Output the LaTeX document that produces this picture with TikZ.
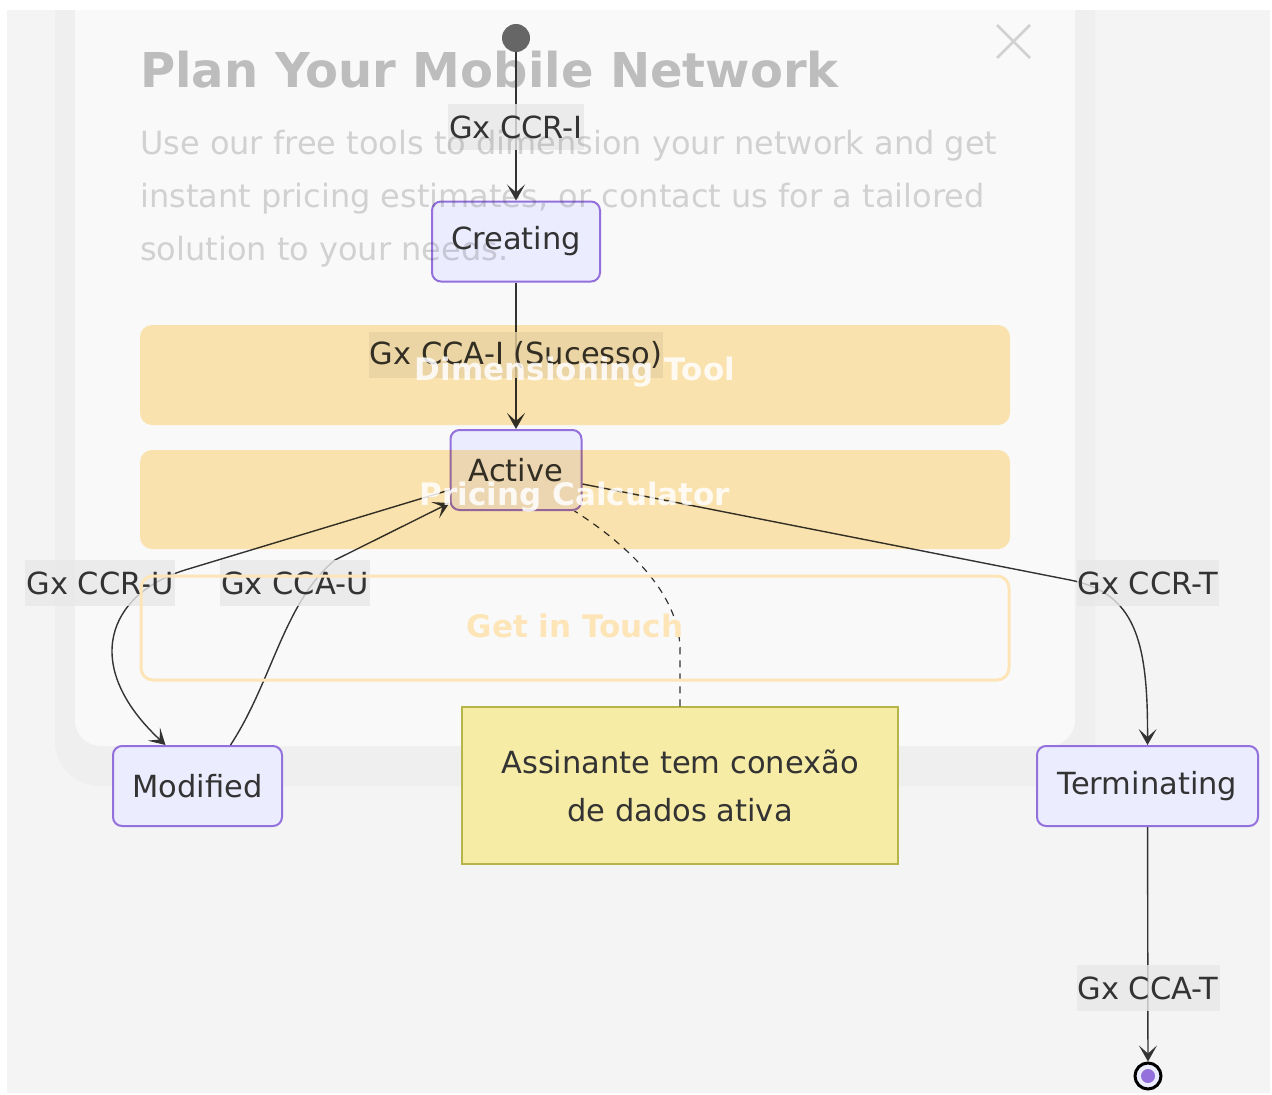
\documentclass[tikz,border=0pt]{standalone}
\usepackage{fontspec}
\setmainfont{DejaVu Sans}
\usetikzlibrary{arrows.meta}
\definecolor{pagegray}{HTML}{F4F4F4}
\definecolor{shadowgray}{HTML}{EFEFEF}
\definecolor{panelgray}{HTML}{F9F9F9}
\definecolor{statefill}{HTML}{ECECFF}
\definecolor{statedraw}{HTML}{9370DB}
\definecolor{ink}{HTML}{333333}
\definecolor{startfill}{HTML}{666666}
\definecolor{notefill}{HTML}{F7ECA6}
\definecolor{notedraw}{HTML}{B5B54A}
\definecolor{labelfill}{HTML}{E8E8E8}
\definecolor{bandfill}{HTML}{FFE8B2}
\definecolor{touch}{HTML}{FDE5B8}
\begin{document}
\begin{tikzpicture}[x=1pt,y=-1pt,
    state/.style={draw=statedraw,fill=statefill,line width=2pt,rounded corners=9pt,
        text=ink,minimum height=80pt,font=\fontsize{30.5}{36}\selectfont},
    edgelabel/.style={fill=labelfill,fill opacity=0.8,text opacity=1,text=ink,
        inner xsep=1pt,minimum height=46pt,font=\fontsize{30.5}{36}\selectfont},
    edge/.style={draw=ink,line width=1.4pt,-{Stealth[length=16pt,width=18pt,inset=8pt]}},
    note/.style={draw=notedraw,fill=notefill,line width=1.5pt,minimum width=436pt,
        minimum height=157pt,align=center,text=ink,font=\fontsize{30.5}{48}\selectfont},
    band/.style={fill=bandfill,rounded corners=12pt},
    bandtext/.style={text=white,text opacity=0.85,font=\bfseries\fontsize{31}{36}\selectfont}]
    \useasboundingbox (0,0) rectangle (1272,1095);
    \fill[white] (0,0) rectangle (1272,1095);
    \fill[pagegray] (7,10) rectangle (1270,1093);
    % modal card behind the diagram
    \begin{scope}
        \clip (7,10) rectangle (1270,1093);
        \fill[shadowgray,rounded corners=45pt] (55,-60) rectangle (1095,786);
        \fill[panelgray,rounded corners=26pt] (75,-60) rectangle (1075,746);
    \end{scope}
    % states
    \node[circle,fill=startfill,minimum size=28pt,inner sep=0pt] (start) at (516,38) {};
    \node[state,minimum width=168pt] (creating) at (516,241.5) {Creating};
    \node[state,minimum width=131pt] (active) at (516,470) {Active};
    \node[state,minimum width=169pt] (modified) at (197.5,786) {Modified};
    \node[state,minimum width=221pt] (terminating) at (1147.5,786) {Terminating};
    \node[note] (note) at (680,785.5) {Assinante tem conexão\\de dados ativa};
    \node[circle,draw=black,line width=3pt,fill=statefill,minimum size=26pt,inner sep=0pt] (final) at (1148,1076) {};
    \fill[statedraw] (final) circle (7pt);
    % transitions
    \draw[edge] (start) -- (creating);
    \draw[edge] (creating) -- (active);
    \draw[edge] ([yshift=-20pt]active.west) -- (185,570)
        .. controls (108,594) and (80,665) .. ([xshift=-32pt]modified.north);
    \draw[edge] ([xshift=33pt]modified.north) .. controls (272,682) and (284,602)
        .. (335,560) -- ([yshift=-33pt]active.west);
    \draw[edge] ([yshift=-14pt]active.east) -- (1070,580)
        .. controls (1135,593) and (1148,640) .. (terminating.north);
    \draw[edge] (terminating) -- (final);
    \draw[ink,line width=1.2pt,dash pattern=on 7pt off 6pt] (note.north) -- (680,650)
        .. controls (680,590) and (620,540) .. ([xshift=-8pt]active.south east);
    % transition labels
    \node[edgelabel] (lccri) at (516,127) {Gx CCR-I};
    \node[edgelabel] (lccai) at (516,355) {Gx CCA-I (Sucesso)};
    \node[edgelabel] (lccru) at (100,583) {Gx CCR-U};
    \node[edgelabel] (lccau) at (295,583) {Gx CCA-U};
    \node[edgelabel] (lccrt) at (1148,583) {Gx CCR-T};
    \node[edgelabel] (lccat) at (1148,988) {Gx CCA-T};
    % modal contents over the diagram
    \node[anchor=west,inner sep=0pt,text=ink,text opacity=0.3,
        font=\bfseries\fontsize{48}{56}\selectfont] (title) at (140,70) {Plan Your Mobile Network};
    \foreach \txt [count=\i] in {Use our free tools to dimension your network and get,
        {instant pricing estimates, or contact us for a tailored},
        solution to your needs.}{
        \node[anchor=base west,inner sep=0pt,text=ink,text opacity=0.2,
            font=\fontsize{32}{40}\selectfont] (para\i) at (140,101+53*\i) {\txt};
    }
    \draw[ink,opacity=0.2,line width=2.5pt] (997,25) -- (1030,58) (1030,25) -- (997,58);
    \begin{scope}[blend mode=multiply]
        \fill[band] (140,325) rectangle (1010,425);
        \fill[band] (140,450) rectangle (1010,549);
    \end{scope}
    \node[bandtext] (dimtool) at (575,372) {Dimensioning Tool};
    \node[bandtext] (pricecalc) at (575,497) {Pricing Calculator};
    \draw[touch,line width=3pt,rounded corners=12pt] (141,576) rectangle (1009,680);
    \node[bandtext,text=touch,text opacity=1] (touchtext) at (575,626) {Get in Touch};
\end{tikzpicture}
\end{document}
